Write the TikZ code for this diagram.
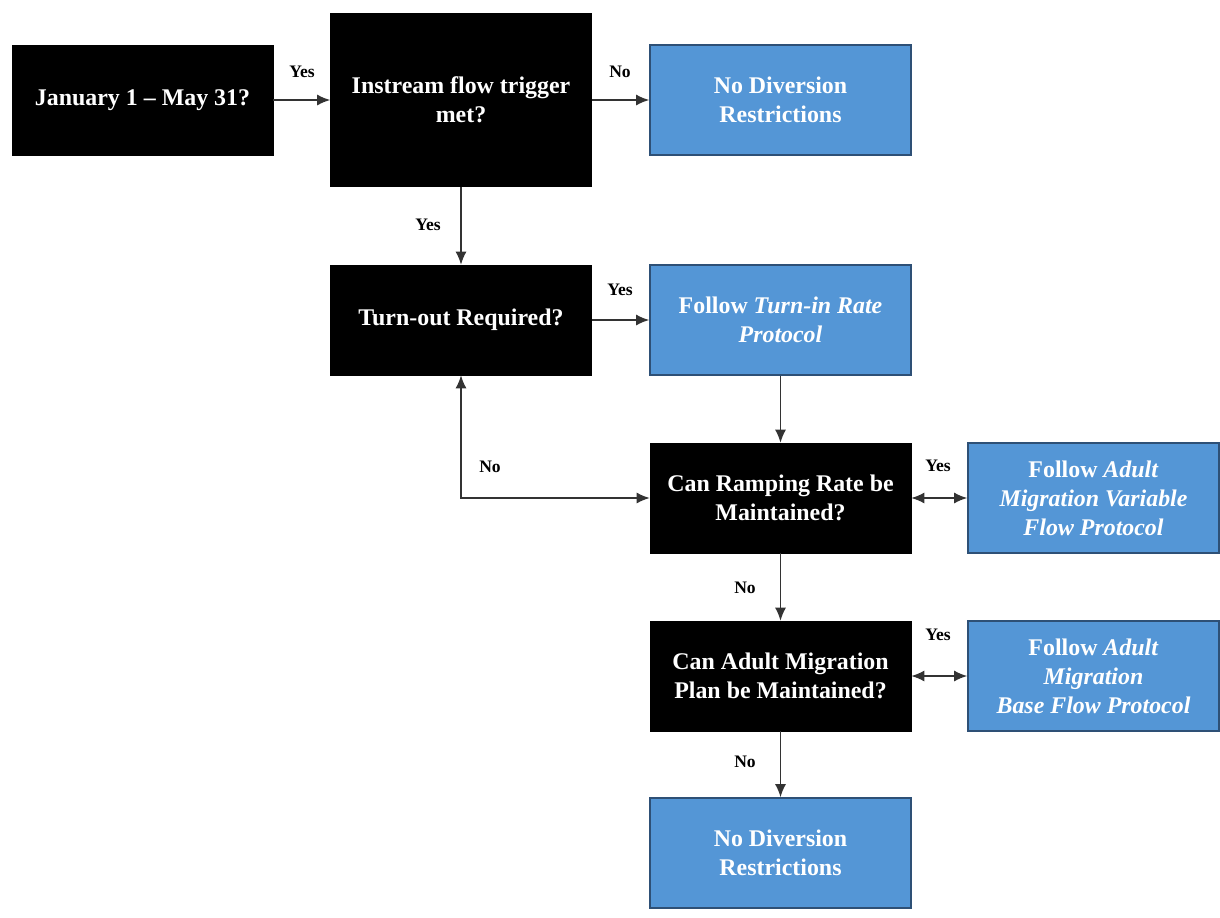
\documentclass[tikz,border=0pt]{standalone}
\usepackage{fontspec}
\setmainfont{Liberation Serif}
\usetikzlibrary{arrows.meta}

\definecolor{stepblue}{RGB}{84,150,214}
\definecolor{stepedge}{RGB}{46,80,118}

\begin{document}
\begin{tikzpicture}[x=0.02cm,y=-0.02cm]
		\tikzset{
			ask/.style={fill=black, draw=black, text=white, font=\bfseries\fontsize{13.6}{16.5}\selectfont,
				minimum width=5.22cm, minimum height=2.2cm, align=center, inner sep=2pt},
			act/.style={fill=stepblue, draw=stepedge, line width=1pt, text=white,
				font=\bfseries\fontsize{13.6}{16.5}\selectfont, minimum width=5.22cm, minimum height=2.2cm, align=center},
			conn/.style={draw=black!80, line width=0.8pt, -{Latex[length=2.6mm,width=2.2mm]}},
			both/.style={conn, {Latex[length=2.6mm,width=2.2mm]}-{Latex[length=2.6mm,width=2.2mm]}},
			ans/.style={font=\bfseries\normalsize}
		}
		\useasboundingbox (0,0) rectangle (1220,917);

		% questions
		\node[ask] (jan) at (142.5,100) {January 1 -- May 31?};
		\node[ask, minimum height=3.46cm] (trigger) at (461,100) {Instream flow trigger\\met?};
		\node[ask] (turnout) at (461,320) {Turn-out Required?};
		\node[ask] (ramp) at (780.5,498) {Can Ramping Rate be\\Maintained?};
		\node[ask] (plan) at (780.5,676) {Can Adult Migration\\Plan be Maintained?};

		% actions
		\node[act] (norestr) at (780.5,100) {No Diversion\\Restrictions};
		\node[act] (turnin) at (780.5,320) {Follow \textit{Turn-in Rate}\\\textit{Protocol}};
		\node[act, minimum width=5.02cm] (variable) at (1093.5,498) {Follow \textit{Adult}\\\textit{Migration Variable}\\\textit{Flow Protocol}};
		\node[act, minimum width=5.02cm] (base) at (1093.5,676) {Follow \textit{Adult}\\\textit{Migration}\\\textit{Base Flow Protocol}};
		\node[act] (norestrb) at (780.5,853) {No Diversion\\Restrictions};

		% connectors
		\draw[conn] (jan) -- (trigger);
		\draw[conn] (trigger) -- (norestr);
		\draw[conn] (trigger) -- (turnout);
		\draw[conn] (turnout) -- (turnin);
		\draw[conn] (turnin) -- (ramp);
		\draw[both] (ramp.west) -| (turnout.south);
		\draw[both] (ramp) -- (variable);
		\draw[conn] (ramp) -- (plan);
		\draw[both] (plan) -- (base);
		\draw[conn] (plan) -- (norestrb);

		% answers
		\node[ans] (y1) at (302,72) {Yes};
		\node[ans] (n1) at (620,72) {No};
		\node[ans] (y2) at (428,225) {Yes};
		\node[ans] (y3) at (620,290) {Yes};
		\node[ans] (n2) at (490,467) {No};
		\node[ans] (y4) at (938,466) {Yes};
		\node[ans] (n3) at (745,588) {No};
		\node[ans] (y5) at (938,635) {Yes};
		\node[ans] (n4) at (745,762) {No};
	\end{tikzpicture}
\end{document}
